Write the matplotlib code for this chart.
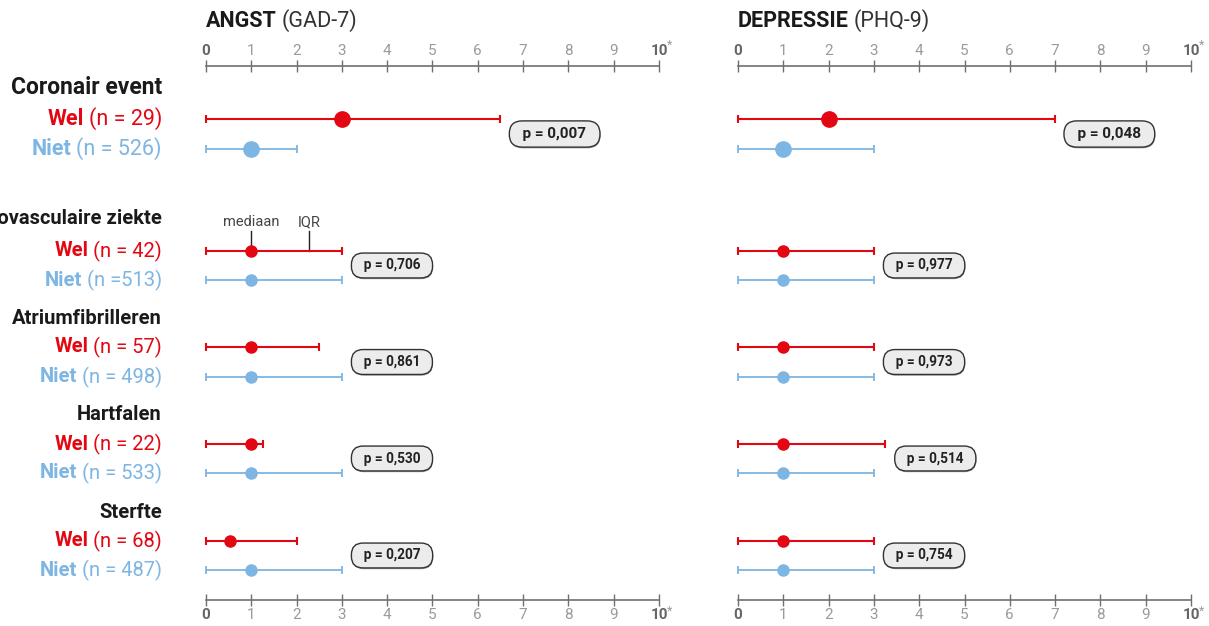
# Angst / depressie mediaan + IQR per uitkomst (wel / niet)
import matplotlib
matplotlib.use('Agg')
import matplotlib.pyplot as plt
import matplotlib.patheffects as pe
from matplotlib.transforms import blended_transform_factory

plt.rcParams['font.family'] = ['Roboto', 'DejaVu Sans']

# data
groups = ['Coronair event', 'Cerebrovasculaire ziekte', 'Atriumfibrilleren', 'Hartfalen', 'Sterfte']
wel_labels = ['(n = 29)', '(n = 42)', '(n = 57)', '(n = 22)', '(n = 68)']
niet_labels = ['(n = 526)', '(n =513)', '(n = 498)', '(n = 533)', '(n = 487)']

angst_wel_lo = [0, 0, 0, 0, 0]
angst_wel_med = [3, 1, 1, 1, 0.53]
angst_wel_hi = [6.5, 3, 2.5, 1.25, 2]
angst_niet_lo = [0, 0, 0, 0, 0]
angst_niet_med = [1, 1, 1, 1, 1]
angst_niet_hi = [2, 3, 3, 3, 3]
angst_p = ['0,007', '0,706', '0,861', '0,530', '0,207']

dep_wel_lo = [0, 0, 0, 0, 0]
dep_wel_med = [2, 1, 1, 1, 1]
dep_wel_hi = [7, 3, 3, 3.25, 3]
dep_niet_lo = [0, 0, 0, 0, 0]
dep_niet_med = [1, 1, 1, 1, 1]
dep_niet_hi = [3, 3, 3, 3, 3]
dep_p = ['0,048', '0,977', '0,973', '0,514', '0,754']

# layout (pixel rows of the 1209x626 picture)
W, H = 1209, 626
header_y = [87, 219, 318, 415, 512]
wel_y = [119, 251, 347, 444, 541]
niet_y = [149, 280, 377, 473, 570]

RED = '#e30613'
BLUE = '#7db5e3'
AXIS = '#707070'

fig = plt.figure(figsize=(W / 100, H / 100), dpi=100)


def rect(x0, x1, ytop, ybot):
    return [x0 / W, 1 - ybot / H, (x1 - x0) / W, (ybot - ytop) / H]


ax1 = fig.add_axes(rect(206, 659, 66, 600))
ax2 = fig.add_axes(rect(738, 1191, 66, 600))


def style_axis(ax):
    ax.set_xlim(0, 10)
    ax.set_ylim(600, 66)
    ax.patch.set_visible(False)
    for s in ['left', 'right']:
        ax.spines[s].set_visible(False)
    for s in ['top', 'bottom']:
        ax.spines[s].set_color(AXIS)
        ax.spines[s].set_linewidth(1.2)
    ax.set_yticks([])
    ax.set_xticks(range(11))
    ax.set_xticklabels([str(i) for i in range(11)])
    ax.tick_params(axis='x', top=True, bottom=True, labeltop=True, labelbottom=True,
                   direction='inout', length=8, width=1, color=AXIS, pad=2,
                   labelsize=11, labelcolor='#9a9a9a')
    for t in ax.xaxis.get_major_ticks():
        if t.label1.get_text() in ('0', '10'):
            for lbl in (t.label1, t.label2):
                lbl.set_fontweight('bold')
                lbl.set_color('#666666')
    for yy, dy in ((1, 15), (0, -8)):
        ax.annotate('*', xy=(1, yy), xycoords='axes fraction', xytext=(5.5, dy),
                    textcoords='offset points', fontsize=9, color='#9a9a9a',
                    ha='left', va='center')


def draw_panel(ax, wlo, wmed, whi, nlo, nmed, nhi, pvals):
    for i in range(len(groups)):
        big = i == 0
        ms = 11 if big else 8
        for lo, med, hi, y, c, lw in ((wlo[i], wmed[i], whi[i], wel_y[i], RED, 1.5),
                                       (nlo[i], nmed[i], nhi[i], niet_y[i], BLUE, 1.3)):
            eb = ax.errorbar([med], [y], xerr=[[med - lo], [hi - med]], fmt='o', color=c,
                             ms=ms, elinewidth=lw, capsize=3, capthick=lw, zorder=3)
            for art in eb.get_children():
                art.set_clip_on(False)
        px = max(whi[i], nhi[i]) + 0.33
        py = (wel_y[i] + niet_y[i]) / 2
        t = ax.text(px, py, '  p = ' + pvals[i] + '  ', ha='left', va='center',
                    fontsize=11 if big else 9.8, fontweight='bold', color='#222222',
                    bbox=dict(boxstyle='round,pad=0.4,rounding_size=0.85',
                              fc='#ececec', ec='#333333', lw=1))
        t.get_bbox_patch().set_path_effects(
            [pe.SimplePatchShadow(offset=(0.4, -0.9), shadow_rgbFace='#888888', alpha=0.8),
             pe.Normal()])


for ax in (ax1, ax2):
    style_axis(ax)

draw_panel(ax1, angst_wel_lo, angst_wel_med, angst_wel_hi,
           angst_niet_lo, angst_niet_med, angst_niet_hi, angst_p)
draw_panel(ax2, dep_wel_lo, dep_wel_med, dep_wel_hi,
           dep_niet_lo, dep_niet_med, dep_niet_hi, dep_p)

# annotations mediaan / IQR
ax1.text(1, 222, 'mediaan', ha='center', va='center', fontsize=10.5, color='#444444')
ax1.plot([1, 1], [231, 246], color='#222222', lw=1)
ax1.text(2.27, 222, 'IQR', ha='center', va='center', fontsize=10.5, color='#444444')
ax1.plot([2.27, 2.27], [231, 251], color='#222222', lw=1)

renderer = fig.canvas.get_renderer()
lab_tr = blended_transform_factory(fig.transFigure, ax1.transData)
LX = 162 / W

# left labels
for i, g in enumerate(groups):
    big = i == 0
    fig.text(LX, header_y[i], g, transform=lab_tr, ha='right', va='center',
             fontsize=16.5 if big else 14.5, fontweight='bold', color='#1a1a1a')
    for y, word, rest, c in ((wel_y[i], 'Wel', wel_labels[i], RED),
                             (niet_y[i], 'Niet', niet_labels[i], BLUE)):
        fs = 15.5 if big else 14.5
        t = fig.text(LX, y, rest, transform=lab_tr, ha='right', va='center',
                     fontsize=fs, color=c)
        x0 = t.get_window_extent(renderer).x0
        bx = (x0 - 5) / fig.bbox.width
        fig.text(bx, y, word, transform=lab_tr, ha='right', va='center',
                 fontsize=fs, fontweight='bold', color=c)

# titles
for x_px, bold, reg in ((206, 'ANGST', '(GAD-7)'), (738, 'DEPRESSIE', '(PHQ-9)')):
    t = fig.text(x_px / W, 1 - 21 / H, bold, ha='left', va='center', fontsize=15.5,
                 fontweight='bold', color='#1a1a1a')
    x1 = t.get_window_extent(renderer).x1
    fig.text((x1 + 5) / fig.bbox.width, 1 - 21 / H, reg, ha='left', va='center',
             fontsize=15.5, color='#333333')

fig.savefig('out.png', dpi=100)
